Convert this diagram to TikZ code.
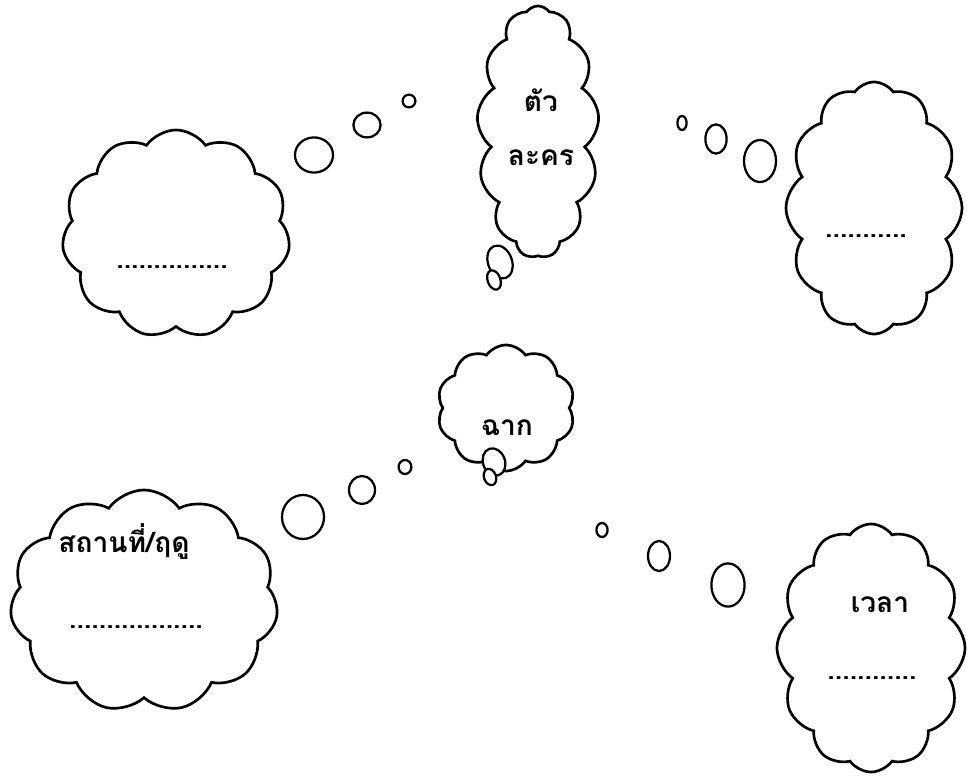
\documentclass[tikz,border=0pt]{standalone}
\usepackage{fontspec}
\newfontfamily\thaifont[Script=Thai]{Loma}
\usepackage{tikz}
\usetikzlibrary{shapes.symbols,shapes.geometric,positioning}

\begin{document}
\begin{tikzpicture}[
  x=0.025cm, y=-0.025cm,
  idea/.style={draw, cloud, cloud puffs=11, cloud puff arc=110, cloud ignores aspect, line width=1.9pt, fill=white, inner sep=0pt},
  bub/.style={draw, ellipse, line width=1.6pt, fill=white, inner sep=0pt},
  lbl/.style={font=\thaifont\bfseries\fontsize{20}{24}\selectfont, inner sep=0pt},
  dots/.style={font=\thaifont\bfseries\fontsize{19}{22}\selectfont, inner sep=0pt}
]
  \useasboundingbox (0,0) rectangle (969,776);

  % clouds
  \node[idea, minimum width=5.7cm, minimum height=5.2cm] (actorA) at (176,234) {};
  \node[idea, minimum width=3.05cm, minimum height=6.3cm, cloud puffs=13] (actor) at (538,132) {};
  \node[idea, minimum width=4.4cm, minimum height=6.3cm, cloud puffs=12] (actorB) at (874,208) {};
  \node[idea, minimum width=3.45cm, minimum height=3.15cm, cloud puffs=10] (scene) at (506,408) {};
  \node[idea, minimum width=6.7cm, minimum height=5.55cm] (place) at (144,601) {};
  \node[idea, minimum width=4.7cm, minimum height=6.2cm, cloud puffs=12] (time) at (871,648) {};

  % tails
  \node[bub, minimum width=0.6cm, minimum height=0.85cm, rotate=20] (actorT1) at (500,262) {};
  \node[bub, minimum width=0.32cm, minimum height=0.5cm, rotate=20] (actorT2) at (494,280) {};
  \node[bub, minimum width=0.55cm, minimum height=0.7cm, rotate=20] (sceneT1) at (494,462) {};
  \node[bub, minimum width=0.3cm, minimum height=0.42cm, rotate=20] (sceneT2) at (490,477) {};

  % texts
  \node[lbl] (actorTxt1) at (541,100) {ตัว};
  \node[lbl] (actorTxt2) at (541,158) {ละคร};
  \node[dots] (actorAdots) at (172,267) {...............};
  \node[dots] (actorBdots) at (866,236) {...........};
  \node[lbl] (sceneTxt) at (507,428) {ฉาก};
  \node[lbl] (placeTxt) at (124,541) {สถานที่/ฤดู};
  \node[dots] (placeDots) at (136,627) {..................};
  \node[lbl] (timeTxt) at (880,605) {เวลา};
  \node[dots] (timeDots) at (872,678) {............};

  % thought bubbles
  \node[bub, minimum width=0.95cm, minimum height=0.88cm] (a1) at (314,155) {};
  \node[bub, minimum width=0.68cm, minimum height=0.62cm] (a2) at (367,125) {};
  \node[bub, minimum width=0.32cm, minimum height=0.32cm] (a3) at (409,101) {};
  \node[bub, minimum width=0.23cm, minimum height=0.35cm] (b1) at (682,123) {};
  \node[bub, minimum width=0.53cm, minimum height=0.73cm] (b2) at (716,139) {};
  \node[bub, minimum width=0.8cm, minimum height=1.05cm] (b3) at (760,161) {};
  \node[bub, minimum width=1.05cm, minimum height=1.1cm] (c1) at (303,517) {};
  \node[bub, minimum width=0.65cm, minimum height=0.7cm] (c2) at (362,490) {};
  \node[bub, minimum width=0.32cm, minimum height=0.35cm] (c3) at (405,467) {};
  \node[bub, minimum width=0.28cm, minimum height=0.35cm] (d1) at (602,530) {};
  \node[bub, minimum width=0.55cm, minimum height=0.75cm] (d2) at (659,556) {};
  \node[bub, minimum width=0.83cm, minimum height=1.08cm] (d3) at (728,585) {};
\end{tikzpicture}
\end{document}
